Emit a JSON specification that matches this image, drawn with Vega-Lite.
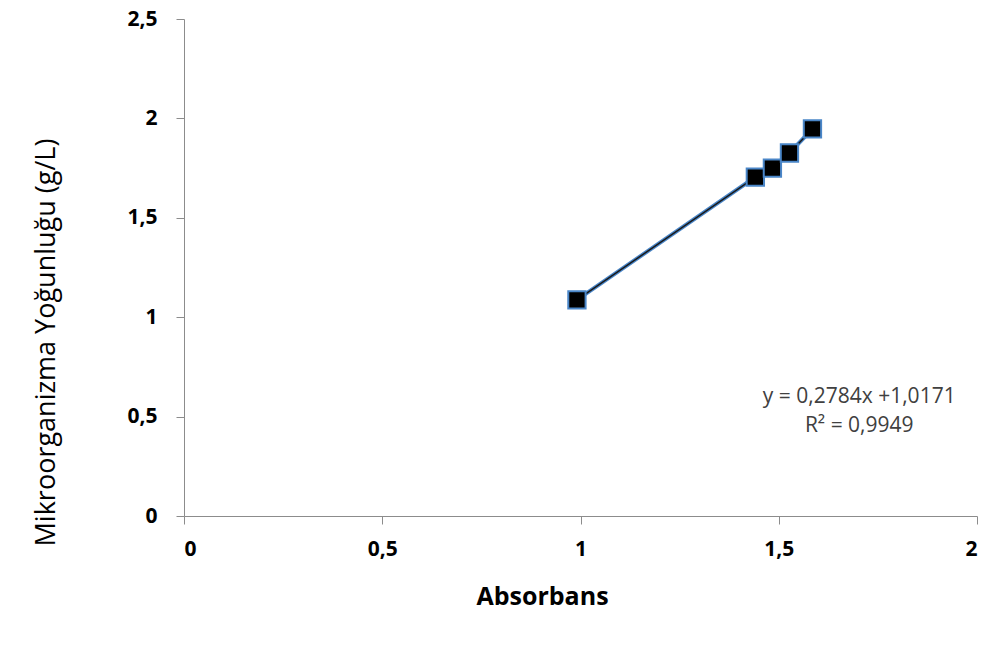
{
  "$schema": "https://vega.github.io/schema/vega-lite/v6.json",
  "width": 793,
  "height": 497,
  "autosize": {"type": "none"},
  "padding": {"left": 184, "top": 19, "right": 17, "bottom": 136},
  "background": "white",
  "config": {
    "locale": {"number": {"decimal": ",", "thousands": ".", "grouping": [3], "currency": ["", " €"]}},
    "view": {"stroke": null},
    "font": "Open Sans",
    "axis": {
      "grid": false,
      "domainColor": "#8c8c8c",
      "tickColor": "#8c8c8c",
      "tickSize": 8,
      "labelFont": "Open Sans",
      "labelFontWeight": "bold",
      "labelFontSize": 21,
      "labelColor": "#000000",
      "titleFont": "Open Sans",
      "titleFontWeight": "bold",
      "titleFontSize": 25,
      "titleColor": "#000000"
    }
  },
  "datasets": {
    "points": [
      {"absorbans": 0.991, "yogunluk": 1.087},
      {"absorbans": 1.441, "yogunluk": 1.705},
      {"absorbans": 1.484, "yogunluk": 1.750},
      {"absorbans": 1.527, "yogunluk": 1.826},
      {"absorbans": 1.585, "yogunluk": 1.947}
    ],
    "labels": [
      {"absorbans": 1.703, "yogunluk": 0.597, "text": "y = 0,2784x +1,0171"},
      {"absorbans": 1.703, "yogunluk": 0.452, "text": "R² = 0,9949"}
    ]
  },
  "layer": [
    {
      "data": {"name": "points"},
      "mark": {"type": "line", "color": "#4a86c8", "strokeWidth": 4},
      "encoding": {
        "x": {"field": "absorbans", "type": "quantitative", "scale": {"domain": [0, 2], "nice": false},
          "axis": {"values": [0, 0.5, 1, 1.5, 2], "format": ".1~f", "title": "Absorbans", "labelPadding": 14, "titleX": 358, "titleY": 80, "titleBaseline": "middle", "titleAlign": "center"}},
        "y": {"field": "yogunluk", "type": "quantitative", "scale": {"domain": [0, 2.5], "nice": false},
          "axis": {"values": [0, 0.5, 1, 1.5, 2, 2.5], "format": ".1~f", "title": "Mikroorganizma Yoğunluğu (g/L)", "labelPadding": 19, "titleFontWeight": "normal", "titleFontSize": 27, "titleX": -138, "titleY": 323, "titleBaseline": "middle", "titleAlign": "center"}}
      }
    },
    {
      "data": {"name": "points"},
      "mark": {"type": "line", "color": "#1a1a1a", "strokeWidth": 1.5},
      "encoding": {
        "x": {"field": "absorbans", "type": "quantitative"},
        "y": {"field": "yogunluk", "type": "quantitative"}
      }
    },
    {
      "data": {"name": "points"},
      "mark": {"type": "point", "shape": "square", "filled": true, "color": "#000000", "stroke": "#4a86c8", "strokeWidth": 2, "size": 300, "opacity": 1},
      "encoding": {
        "x": {"field": "absorbans", "type": "quantitative"},
        "y": {"field": "yogunluk", "type": "quantitative"}
      }
    },
    {
      "data": {"name": "labels"},
      "mark": {"type": "text", "font": "Open Sans", "fontSize": 21, "color": "#404040", "align": "center", "baseline": "middle"},
      "encoding": {
        "x": {"field": "absorbans", "type": "quantitative"},
        "y": {"field": "yogunluk", "type": "quantitative"},
        "text": {"field": "text"}
      }
    }
  ]
}
